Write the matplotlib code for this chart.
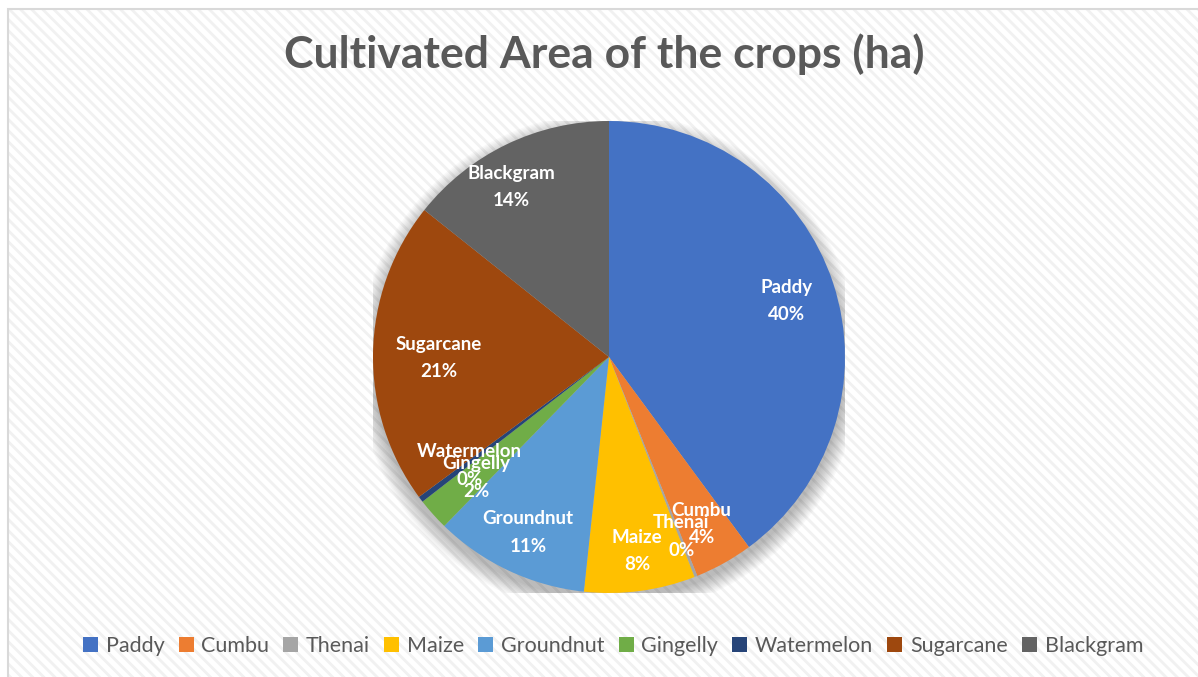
import matplotlib.pyplot as plt
import numpy as np
from matplotlib.patches import Rectangle, Circle, Patch

plt.rcParams['font.family'] = ['Lato', 'DejaVu Sans']
plt.rcParams['hatch.linewidth'] = 2.0

# crop share of cultivated area (%)
crops = ['Paddy', 'Cumbu', 'Thenai', 'Maize', 'Groundnut', 'Gingelly',
         'Watermelon', 'Sugarcane', 'Blackgram']
area = [39.9, 4.0, 0.2, 7.6, 10.6, 2.2, 0.4, 20.8, 14.3]
colors = ['#4472C4', '#ED7D31', '#A5A5A5', '#FFC000', '#5B9BD5', '#70AD47',
          '#264478', '#9E480E', '#636363']

# where each label sits: angle clockwise from 12 o'clock, radius fraction
lab_ang = [72.5, 151, 158.1, 171.8, 204.8, 227.7, 232.2, 269.7, 330.2]
lab_rad = [0.79, 0.81, 0.82, 0.83, 0.82, 0.76, 0.75, 0.72, 0.83]

W, H = 1198, 677
fig = plt.figure(figsize=(W / 100, H / 100), dpi=100)

# striped chart area background + thin border
bg = Rectangle((8 / W, 0), 1, 1 - 9 / H, transform=fig.transFigure,
               facecolor='white', edgecolor='#f1f1f1', hatch='\\\\\\',
               linewidth=0, zorder=-2)
fig.patches.append(bg)
border = Rectangle((8 / W, -0.01), 1.1, 1.01 - 9 / H, transform=fig.transFigure,
                   fill=False, edgecolor='#d9d9d9', linewidth=1.5, zorder=-1)
fig.patches.append(border)

cx, cy, r = 609, 357, 236
ax = fig.add_axes([(cx - r) / W, (H - cy - r) / H, 2 * r / W, 2 * r / H])
ax.set_zorder(2)

# soft shadow under the pie
for i in range(12):
    ax.add_patch(Circle((0.0, -0.03), 1.0 + 0.006 * i, color='#000000',
                        alpha=0.022, lw=0, zorder=0))

wedges, _ = ax.pie(area, colors=colors, startangle=90, counterclock=False,
                   radius=1.0, wedgeprops=dict(linewidth=0))
for w in wedges:
    w.set_zorder(2)

total = sum(area)
for name, val, a, rf in zip(crops, area, lab_ang, lab_rad):
    t = np.deg2rad(a)
    x, y = rf * np.sin(t), rf * np.cos(t)
    ax.text(x, y, f'{name}\n{val / total * 100:.0f}%', ha='center', va='center',
            color='white', fontsize=13.5, fontweight='bold', linespacing=1.75,
            zorder=5)

ax.set_xlim(-1, 1)
ax.set_ylim(-1, 1)
ax.axis('off')

fig.text(604 / W, 1 - 54 / H, 'Cultivated Area of the crops (ha)', ha='center',
         va='center', fontsize=32, fontweight='bold', color='#595959')

handles = [Patch(facecolor=c, edgecolor='none') for c in colors]
fig.legend(handles, crops, loc='center', bbox_to_anchor=(613 / W, 1 - 646 / H),
           ncol=9, frameon=False, fontsize=15.5, labelcolor='#595959',
           handlelength=0.7, handleheight=0.7, handletextpad=0.35,
           columnspacing=0.66)

fig.savefig('out.png', dpi=100)
